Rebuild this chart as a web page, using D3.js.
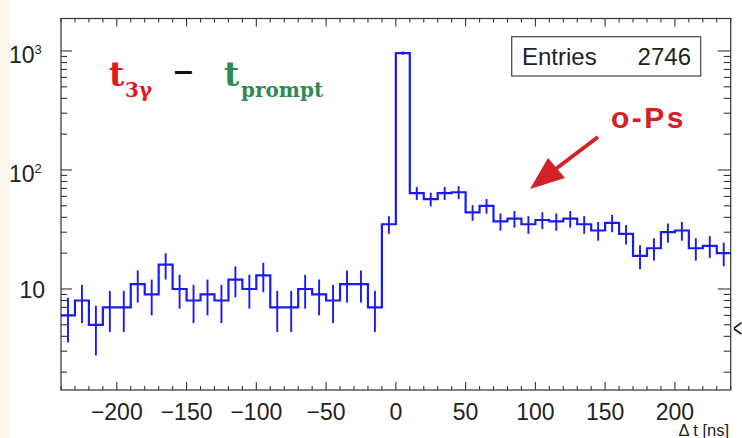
<!DOCTYPE html>
<html>
<head>
<meta charset="utf-8">
<script src="https://cdn.jsdelivr.net/npm/d3@7"></script>
<style>
  body { margin: 0; background: #ffffff; }
  svg { display: block; }
</style>
</head>
<body>
<div id="chart"></div>
<script>
// bin centres of the time difference histogram [ns], 10 ns bins
var binCenters = [
  -235, -225, -215, -205, -195, -185, -175, -165, -155, -145, -135, -125,
  -115, -105, -95, -85, -75, -65, -55, -45, -35, -25, -15, -5,
  5, 15, 25, 35, 45, 55, 65, 75, 85, 95, 105, 115,
  125, 135, 145, 155, 165, 175, 185, 195, 205, 215, 225, 235
];
// counts per bin
var binCounts = [
  6, 8, 5, 7, 7, 11, 9, 16, 10, 8, 9, 8,
  12, 10, 13, 7, 7, 10, 9, 8, 11, 11, 7, 35,
  960, 64, 57, 64, 65, 44, 50, 37, 39, 35, 38, 37,
  39, 35, 31, 36, 29, 19, 22, 30, 31, 22, 23, 20
];
var binWidth = 10;

// axis ticks
var xMajorTicks = [-200, -150, -100, -50, 0, 50, 100, 150, 200];
var yMajorTicks = [10, 100, 1000];
var yLabels = [
  { v: 10, base: "10", sup: "" },
  { v: 100, base: "10", sup: "2" },
  { v: 1000, base: "10", sup: "3" }
];
var entries = 2746;

var svgWidth = 742;
var svgHeight = 438;

var frame = { left: 61, right: 730.7, top: 18.5, bottom: 390 };

var svg = d3
  .select("#chart")
  .append("svg")
  .attr("width", svgWidth)
  .attr("height", svgHeight);

// cream strip on the left side of the picture
svg.append("rect")
  .attr("x", 0).attr("y", 0)
  .attr("width", 10).attr("height", svgHeight)
  .attr("fill", "#fcf6ea");

// scales
var xScale = d3.scaleLinear()
  .domain([-240, 240])
  .range([frame.left, frame.right]);

var yScale = d3.scaleLog()
  .domain([1.416, 1875])
  .range([frame.bottom, frame.top]);

var axisColor = "#333";

// frame
svg.append("rect")
  .attr("x", frame.left)
  .attr("y", frame.top)
  .attr("width", frame.right - frame.left)
  .attr("height", frame.bottom - frame.top)
  .attr("fill", "none")
  .attr("stroke", axisColor)
  .attr("stroke-width", 1.2);

// x ticks (bottom pointing up, top pointing down)
var xMinor = d3.range(-240, 241, 10);
var xTickG = svg.append("g").attr("stroke", axisColor).attr("stroke-width", 1.1);
xMinor.forEach(function (v) {
  var len = xMajorTicks.indexOf(v) >= 0 ? 8 : 4;
  xTickG.append("line")
    .attr("x1", xScale(v)).attr("x2", xScale(v))
    .attr("y1", frame.bottom).attr("y2", frame.bottom - len);
  xTickG.append("line")
    .attr("x1", xScale(v)).attr("x2", xScale(v))
    .attr("y1", frame.top).attr("y2", frame.top + len);
});

// x tick labels
svg.append("g")
  .selectAll("text")
  .data(xMajorTicks)
  .enter()
  .append("text")
  .attr("x", (d) => xScale(d))
  .attr("y", 420)
  .attr("text-anchor", "middle")
  .style("font-family", "Liberation Sans, Arial, sans-serif")
  .style("font-size", "23px")
  .style("fill", "#222")
  .text((d) => (d < 0 ? "\u2212" + Math.abs(d) : d));

// x axis title (sits at the very bottom edge, as in the original)
svg.append("text")
  .attr("x", 729)
  .attr("y", 435.5)
  .attr("text-anchor", "end")
  .style("font-family", "Liberation Sans, Arial, sans-serif")
  .style("font-size", "16.5px")
  .style("fill", "#222")
  .text("\u0394 t [ns]");

// y ticks, log scale (left pointing right, right pointing left)
var yTickValues = [];
[1, 10, 100, 1000].forEach(function (dec) {
  for (var k = 1; k <= 9; k++) {
    var v = dec * k;
    if (v >= yScale.domain()[0] && v <= yScale.domain()[1]) yTickValues.push(v);
  }
});
var yTickG = svg.append("g").attr("stroke", axisColor).attr("stroke-width", 1.1);
yTickValues.forEach(function (v) {
  var major = yMajorTicks.indexOf(v) >= 0;
  yTickG.append("line")
    .attr("x1", frame.left).attr("x2", frame.left + (major ? 11 : 6))
    .attr("y1", yScale(v)).attr("y2", yScale(v));
  yTickG.append("line")
    .attr("x1", frame.right).attr("x2", frame.right - (major ? 13 : 7))
    .attr("y1", yScale(v)).attr("y2", yScale(v));
});

// y tick labels
yLabels.forEach(function (d) {
  var t = svg.append("text")
    .attr("y", yScale(d.v) + (d.sup ? 12.5 : 9))
    .style("font-family", "Liberation Sans, Arial, sans-serif")
    .style("font-size", "23px")
    .style("fill", "#222");
  if (d.sup) {
    t.attr("x", 9);
    t.append("tspan").text(d.base);
    t.append("tspan")
      .attr("dy", -9)
      .style("font-size", "13px")
      .text(d.sup);
  } else {
    t.attr("x", 45).attr("text-anchor", "end").text(d.base);
  }
});

// histogram outline
var stepPoints = [];
binCenters.forEach(function (c, i) {
  stepPoints.push([c - binWidth / 2, binCounts[i]]);
  stepPoints.push([c + binWidth / 2, binCounts[i]]);
});
var stepLine = d3.line()
  .x((d) => xScale(d[0]))
  .y((d) => yScale(d[1]));

var histColor = "#1a1af2";

svg.append("path")
  .attr("d", stepLine(stepPoints))
  .attr("fill", "none")
  .attr("stroke", histColor)
  .attr("stroke-width", 2.2);

// error bars sqrt(N)
svg.append("g")
  .selectAll("line")
  .data(binCenters)
  .enter()
  .append("line")
  .attr("x1", (d) => xScale(d))
  .attr("x2", (d) => xScale(d))
  .attr("y1", (d, i) => yScale(binCounts[i] - Math.sqrt(binCounts[i])))
  .attr("y2", (d, i) => yScale(binCounts[i] + Math.sqrt(binCounts[i])))
  .attr("stroke", histColor)
  .attr("stroke-width", 1.9);

// stats box
svg.append("rect")
  .attr("x", 511.7).attr("y", 36.7)
  .attr("width", 189).attr("height", 39.3)
  .attr("fill", "#fff")
  .attr("stroke", "#444")
  .attr("stroke-width", 1.2);
svg.append("text")
  .attr("x", 522).attr("y", 65)
  .style("font-family", "Liberation Sans, Arial, sans-serif")
  .style("font-size", "24px")
  .style("fill", "#222")
  .text("Entries");
svg.append("text")
  .attr("x", 691).attr("y", 65)
  .attr("text-anchor", "end")
  .style("font-family", "Liberation Sans, Arial, sans-serif")
  .style("font-size", "24px")
  .style("fill", "#222")
  .text(entries);

// title  t_3gamma - t_prompt
var serif = "DejaVu Serif, serif";
svg.append("text")
  .attr("x", 109).attr("y", 86)
  .style("font-family", serif).style("font-weight", "bold")
  .style("font-size", "33px").style("fill", "#e8161b")
  .text("t");
svg.append("text")
  .attr("x", 125).attr("y", 97)
  .style("font-family", serif).style("font-weight", "bold")
  .style("font-size", "20px").style("fill", "#e8161b")
  .text("3\u03b3");
svg.append("text")
  .attr("x", 172).attr("y", 81)
  .style("font-family", "DejaVu Sans, sans-serif").style("font-weight", "bold")
  .style("font-size", "27px").style("fill", "#111")
  .text("\u2212");
svg.append("text")
  .attr("x", 224).attr("y", 86)
  .style("font-family", serif).style("font-weight", "bold")
  .style("font-size", "33px").style("fill", "#2f8a52")
  .text("t");
svg.append("text")
  .attr("x", 241).attr("y", 97)
  .style("font-family", serif).style("font-weight", "bold")
  .style("font-size", "20px").style("fill", "#2f8a52")
  .text("prompt");

// o-Ps label and arrow
svg.append("text")
  .attr("x", 611).attr("y", 128)
  .style("font-family", "Liberation Sans, Arial, sans-serif")
  .style("font-weight", "bold")
  .style("font-size", "30px")
  .style("letter-spacing", "2.5px")
  .style("fill", "#d42027")
  .text("o-Ps");

var arrowColor = "#d42027";
svg.append("line")
  .attr("x1", 598).attr("y1", 137)
  .attr("x2", 553).attr("y2", 171)
  .attr("stroke", arrowColor)
  .attr("stroke-width", 4);
svg.append("path")
  .attr("d", "M530,189 L548,158 L565,178 Z")
  .attr("fill", arrowColor);

// partial glyph at the right edge of the original picture
svg.append("text")
  .attr("transform", "translate(733,337) scale(0.6,1)")
  .style("font-family", "Liberation Sans, Arial, sans-serif")
  .style("font-size", "26px")
  .style("fill", "#111")
  .text("<");
</script>
</body>
</html>
